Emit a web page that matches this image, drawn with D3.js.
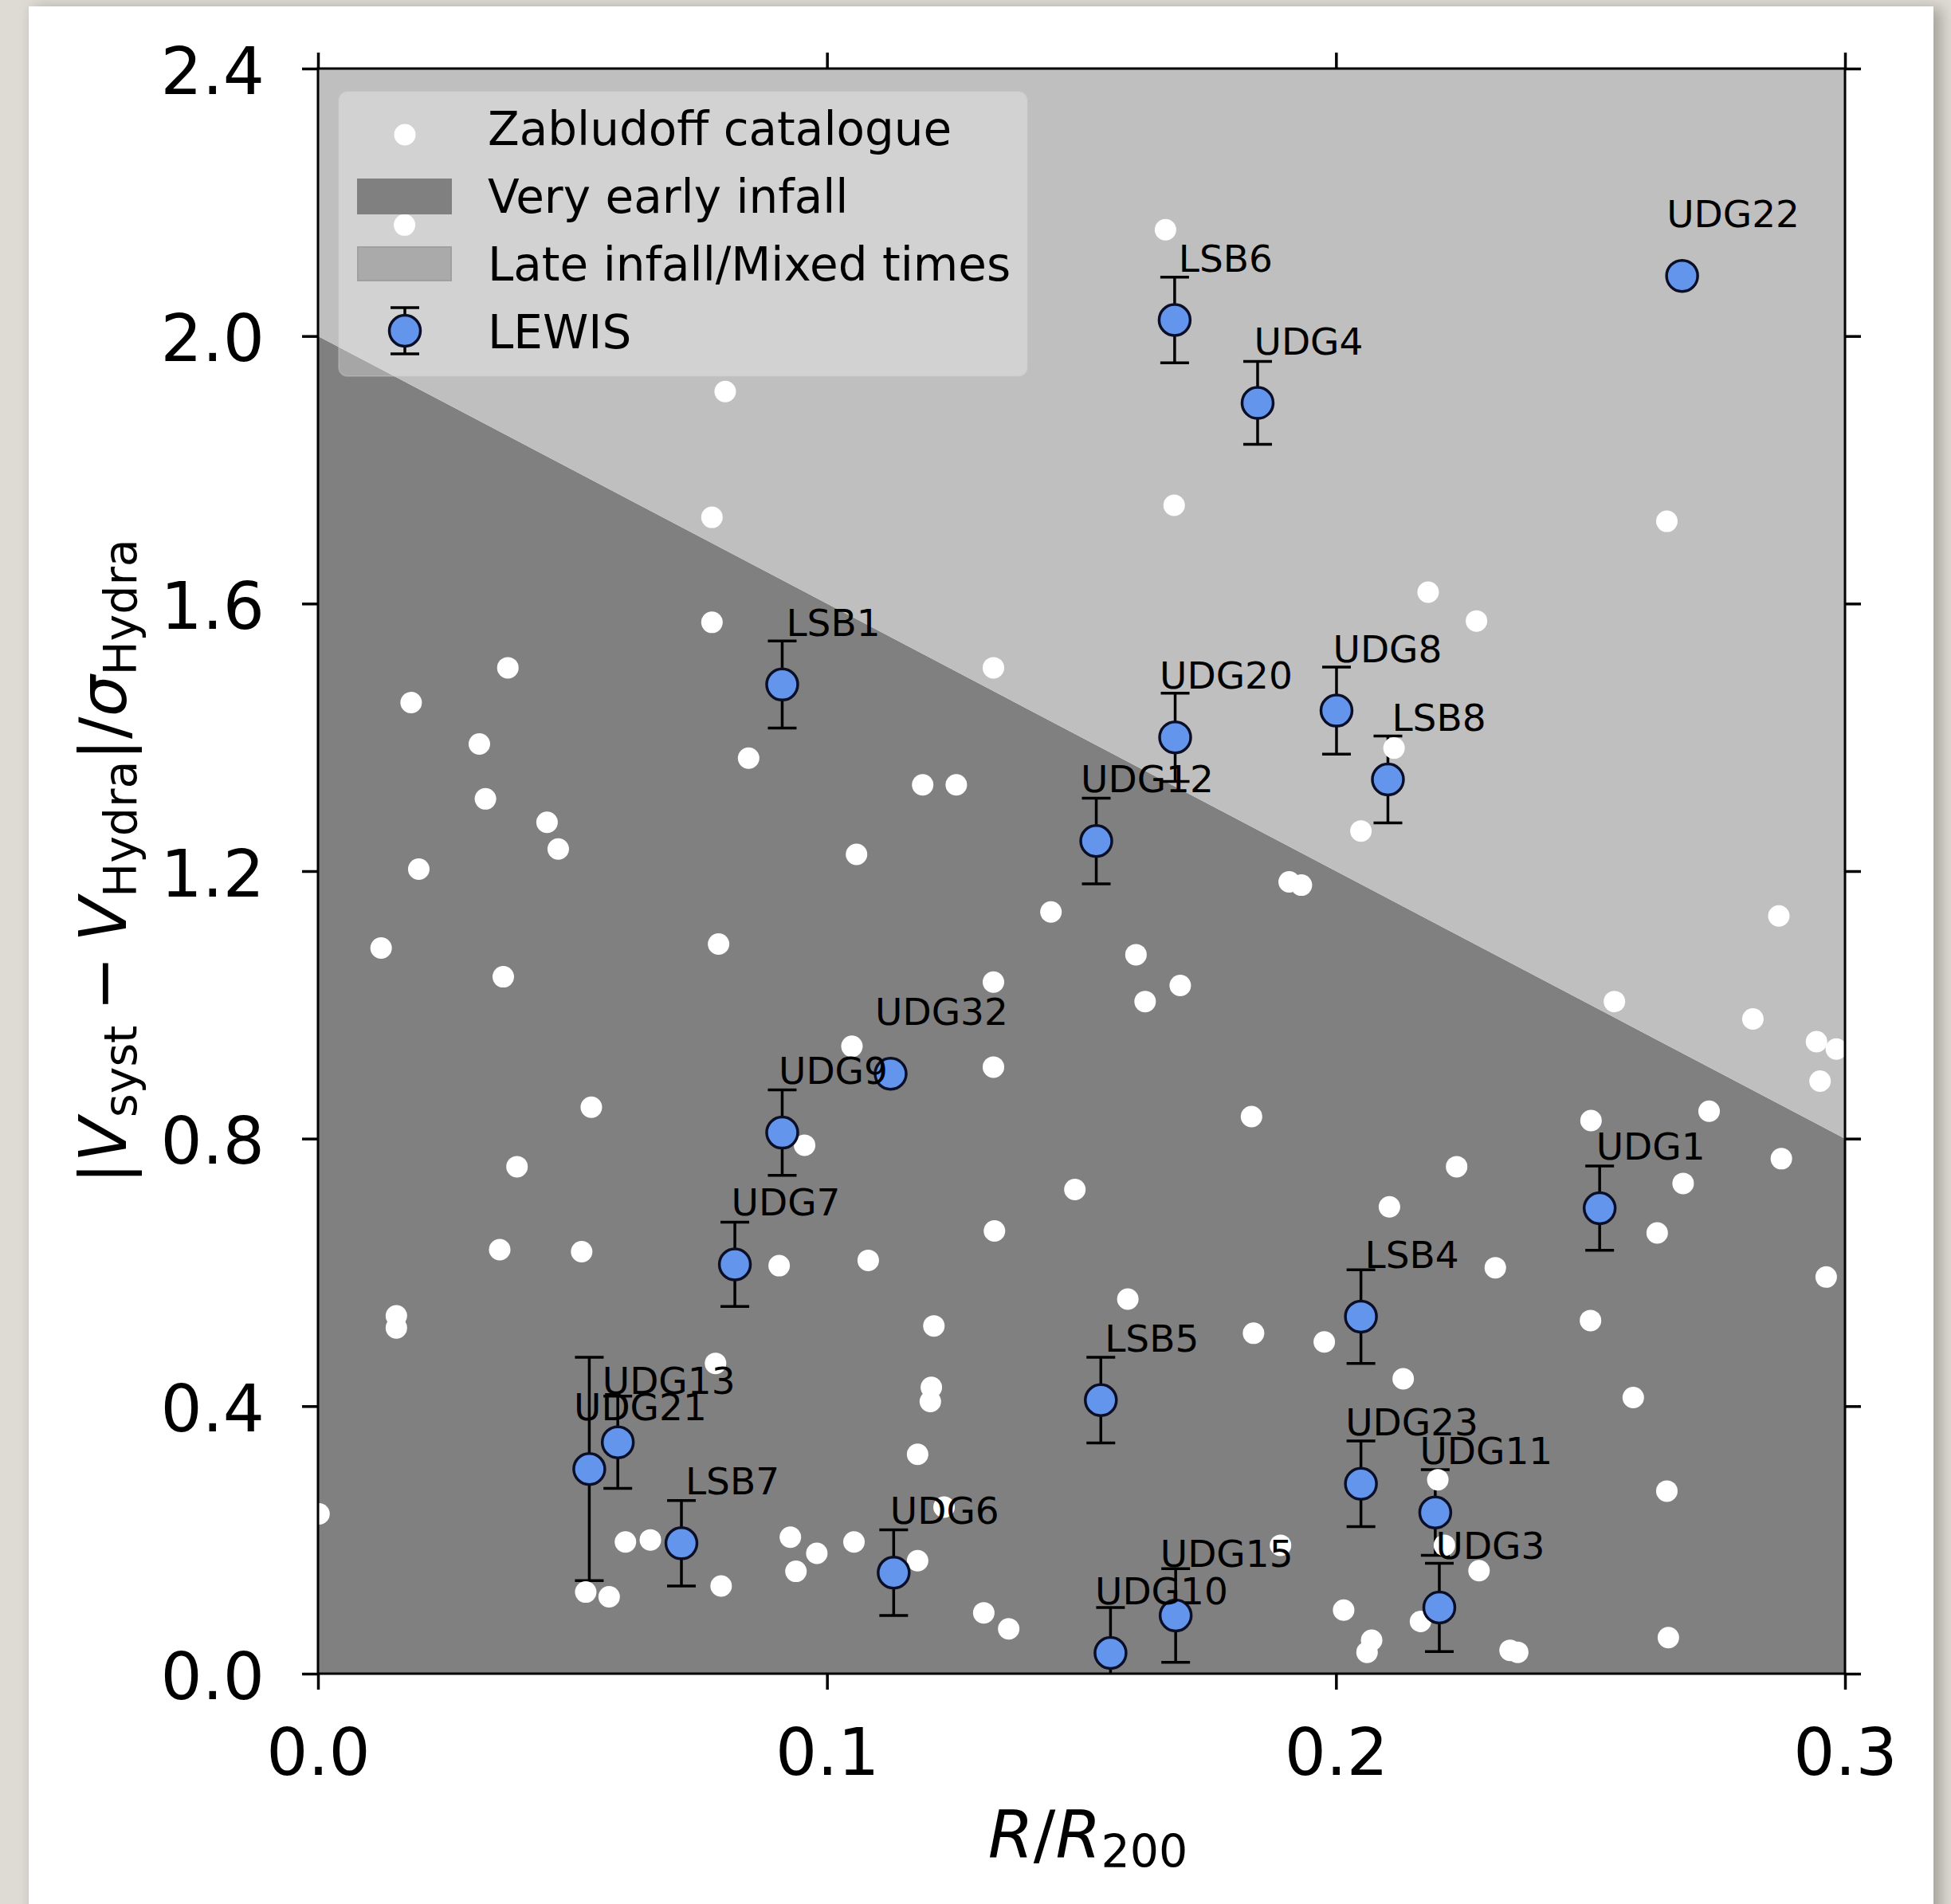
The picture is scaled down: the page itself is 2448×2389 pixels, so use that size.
<!DOCTYPE html>
<html>
<head>
<meta charset="utf-8">
<script src="https://cdn.jsdelivr.net/npm/d3@7"></script>
<style>
  body { margin: 0; background: #dddad3; }
  svg { display: block; font-family: 'DejaVu Sans', sans-serif; }
</style>
</head>
<body>
<div class="graph"><svg></svg></div>
<script>
// Zabludoff catalogue (white dots)
const zabludoffR = [
  0.017, 0.1665, 0.080, 0.0774, 0.1682, 0.265, 0.2181, 0.2276, 0.0774, 0.1327,
  0.0373, 0.0183, 0.0317, 0.0846, 0.0329, 0.1188, 0.1254, 0.2114, 0.2049, 0.045,
  0.0472, 0.0198, 0.1058, 0.1908, 0.1932, 0.287, 0.144, 0.0124, 0.0787, 0.1607,
  0.1694, 0.0364, 0.1327, 0.1625, 0.2547, 0.2819, 0.2944, 0.2983, 0.2951, 0.1049,
  0.1327, 0.0537, 0.2733, 0.1834, 0.2501, 0.2875, 0.0391, 0.2237, 0.0956, 0.2682,
  0.1487, 0.2105, 0.1329, 0.2631, 0.0357, 0.0518, 0.0906, 0.1081, 0.2313, 0.2963,
  0.0154, 0.0154, 0.1591, 0.121, 0.1838, 0.1977, 0.25, 0.0781, 0.2132, 0.1205,
  0.1203, 0.2584, 0.1178, 0.22, 0.265, 0.0002, 0.123, 0.0928, 0.098, 0.1053,
  0.0604, 0.0653, 0.0939, 0.1178, 0.0792, 0.0526, 0.0572, 0.2213, 0.2281, 0.1891,
  0.1308, 0.1357, 0.2015, 0.2166, 0.207, 0.2061, 0.2342, 0.2357, 0.2653
]
const zabludoffV = [
  2.166, 2.159, 1.917, 1.729, 1.747, 1.723, 1.617, 1.574, 1.572, 1.504,
  1.504, 1.452, 1.390, 1.369, 1.308, 1.329, 1.329, 1.384, 1.260, 1.273,
  1.233, 1.203, 1.225, 1.184, 1.179, 1.133, 1.139, 1.085, 1.091, 1.075,
  1.029, 1.042, 1.034, 1.005, 1.005, 0.979, 0.945, 0.934, 0.886, 0.938,
  0.907, 0.847, 0.841, 0.833, 0.827, 0.770, 0.758, 0.758, 0.790, 0.733,
  0.724, 0.698, 0.662, 0.659, 0.634, 0.631, 0.610, 0.618, 0.607, 0.593,
  0.535, 0.517, 0.560, 0.520, 0.509, 0.496, 0.528, 0.464, 0.441, 0.428,
  0.407, 0.413, 0.328, 0.290, 0.273, 0.239, 0.249, 0.204, 0.180, 0.197,
  0.197, 0.200, 0.153, 0.169, 0.131, 0.122, 0.115, 0.192, 0.154, 0.192,
  0.091, 0.067, 0.095, 0.078, 0.050, 0.032, 0.035, 0.032, 0.054
]

// LEWIS galaxies
const lewisNames = [
  'LSB6', 'UDG4', 'UDG22', 'LSB1', 'UDG20', 'UDG8', 'LSB8', 'UDG12', 'UDG32',
  'UDG9', 'UDG7', 'UDG1', 'LSB4', 'LSB5', 'UDG13', 'UDG21', 'LSB7', 'UDG6',
  'UDG10', 'UDG15', 'UDG23', 'UDG11', 'UDG3'
]
const lewisR = [
  0.1683, 0.1846, 0.268, 0.0912, 0.1684, 0.2001, 0.2102, 0.1529, 0.1125,
  0.0912, 0.0819, 0.2518, 0.2049, 0.1538, 0.0589, 0.0533, 0.0714, 0.1131,
  0.1557, 0.1685, 0.2049, 0.2195, 0.2203
]
const lewisV = [
  2.024, 1.900, 2.090, 1.479, 1.400, 1.440, 1.337, 1.245, 0.897,
  0.809, 0.612, 0.696, 0.534, 0.409, 0.346, 0.306, 0.195, 0.151,
  0.031, 0.087, 0.284, 0.241, 0.099
]
const lewisErr = [
  0.064, 0.062, 0, 0.065, 0.066, 0.065, 0.065, 0.064, 0,
  0.064, 0.063, 0.063, 0.070, 0.064, 0.069, 0.167, 0.064, 0.064,
  0.068, 0.070, 0.064, 0.064, 0.066
]

// infall boundary line, ticks and legend
const boundaryR = [0, 0.3]
const boundaryV = [2.0, 0.8]
const xTicks = [0, 0.1, 0.2, 0.3]
const yTicks = [0, 0.4, 0.8, 1.2, 1.6, 2.0, 2.4]
const legendLabels = ['Zabludoff catalogue', 'Very early infall', 'Late infall/Mixed times', 'LEWIS']

const DARK = '#808080'
const LIGHT = '#bfbfbf'
const BLUE = '#6495ed'

const margin = { left: 399, top: 86 }
const width = 1916
const height = 2014

const svg = d3.select('.graph').select('svg')
  .attr('width', 2448)
  .attr('height', 2389)

/**
 * Draws the paper sheet the figure is printed on.
 */
function drawPaper () {
  const defs = svg.append('defs')
  defs.append('filter')
    .attr('id', 'blur')
    .attr('x', -0.1).attr('y', -0.1)
    .attr('width', 1.2).attr('height', 1.2)
    .append('feGaussianBlur')
    .attr('stdDeviation', 9)

  svg.append('rect')
    .attr('x', 0).attr('y', 0)
    .attr('width', 2448).attr('height', 2389)
    .attr('fill', '#dedbd4')
  svg.append('rect')
    .attr('x', 42).attr('y', 10)
    .attr('width', 2394).attr('height', 2420)
    .attr('fill', '#77746e')
    .attr('opacity', 0.55)
    .attr('filter', 'url(#blur)')
  svg.append('rect')
    .attr('x', 36).attr('y', 8)
    .attr('width', 2390).attr('height', 2400)
    .attr('fill', '#ffffff')
}

drawPaper()

const g = svg.append('g')
  .attr('id', 'graph-g')
  .attr('transform', 'translate(' + margin.left + ',' + margin.top + ')')

const xScale = d3.scaleLinear().domain([0, 0.3]).range([0, width])
const yScale = d3.scaleLinear().domain([0, 2.4]).range([height, 0])

g.append('defs').append('clipPath')
  .attr('id', 'plot-clip')
  .append('rect')
  .attr('width', width)
  .attr('height', height)

// shaded infall regions
const boundary = boundaryR.map((r, i) => ({ r: r, v: boundaryV[i] }))

g.append('path')
  .datum(boundary)
  .attr('fill', DARK)
  .attr('d', d3.area()
    .x(d => xScale(d.r))
    .y0(yScale(0))
    .y1(d => yScale(d.v)))

g.append('path')
  .datum(boundary)
  .attr('fill', LIGHT)
  .attr('d', d3.area()
    .x(d => xScale(d.r))
    .y0(d => yScale(d.v))
    .y1(yScale(2.4)))

const data = g.append('g').attr('clip-path', 'url(#plot-clip)')

const lewis = lewisNames.map((name, i) => ({
  name: name, r: lewisR[i], v: lewisV[i], err: lewisErr[i]
}))

// error bars
const bars = data.append('g')
  .selectAll('g')
  .data(lewis.filter(d => d.err > 0))
  .join('g')
  .attr('stroke', '#000')
  .attr('stroke-width', 3.5)

bars.append('line')
  .attr('x1', d => xScale(d.r)).attr('x2', d => xScale(d.r))
  .attr('y1', d => yScale(d.v - d.err)).attr('y2', d => yScale(d.v + d.err))
bars.append('line')
  .attr('x1', d => xScale(d.r) - 18).attr('x2', d => xScale(d.r) + 18)
  .attr('y1', d => yScale(d.v + d.err)).attr('y2', d => yScale(d.v + d.err))
bars.append('line')
  .attr('x1', d => xScale(d.r) - 18).attr('x2', d => xScale(d.r) + 18)
  .attr('y1', d => yScale(d.v - d.err)).attr('y2', d => yScale(d.v - d.err))

// catalogue dots
data.append('g')
  .selectAll('circle')
  .data(zabludoffR.map((r, i) => ({ r: r, v: zabludoffV[i] })))
  .join('circle')
  .attr('cx', d => xScale(d.r))
  .attr('cy', d => yScale(d.v))
  .attr('r', 13.5)
  .attr('fill', '#ffffff')

// LEWIS markers
data.append('g')
  .selectAll('circle')
  .data(lewis)
  .join('circle')
  .attr('cx', d => xScale(d.r))
  .attr('cy', d => yScale(d.v))
  .attr('r', 19.5)
  .attr('fill', BLUE)
  .attr('stroke', '#0b0f26')
  .attr('stroke-width', 3.5)

// galaxy names
g.append('g')
  .selectAll('text')
  .data(lewis)
  .join('text')
  .attr('x', d => xScale(d.r) + 64)
  .attr('y', d => yScale(d.v) - 61)
  .attr('text-anchor', 'middle')
  .attr('font-size', 47)
  .attr('fill', '#000')
  .text(d => d.name)

/**
 * Styles an axis group drawn by d3.
 *
 * @param {*} sel The axis selection
 */
function styleAxis (sel) {
  sel.attr('font-size', null).attr('font-family', null)
  sel.select('.domain').remove()
  sel.selectAll('.tick line').attr('stroke', '#000').attr('stroke-width', 3.5)
  sel.selectAll('.tick text').attr('font-size', 82).attr('fill', '#000')
}

g.append('g')
  .attr('class', 'y axis')
  .call(d3.axisLeft(yScale).tickValues(yTicks).tickFormat(d3.format('.1f'))
    .tickSizeInner(20).tickSizeOuter(0).tickPadding(47))
  .call(styleAxis)
  .selectAll('.tick text').attr('dy', '0.38em')

g.append('g')
  .attr('class', 'y axis right')
  .attr('transform', 'translate(' + width + ',0)')
  .call(d3.axisRight(yScale).tickValues(yTicks).tickFormat('')
    .tickSizeInner(20).tickSizeOuter(0))
  .call(styleAxis)

g.append('g')
  .attr('class', 'x axis')
  .attr('transform', 'translate(0, ' + height + ')')
  .call(d3.axisBottom(xScale).tickValues(xTicks).tickFormat(d3.format('.1f'))
    .tickSizeInner(20).tickSizeOuter(0).tickPadding(49))
  .call(styleAxis)

g.append('g')
  .attr('class', 'x axis top')
  .call(d3.axisTop(xScale).tickValues(xTicks).tickFormat('')
    .tickSizeInner(20).tickSizeOuter(0))
  .call(styleAxis)

// spines
g.append('rect')
  .attr('width', width)
  .attr('height', height)
  .attr('fill', 'none')
  .attr('stroke', '#000')
  .attr('stroke-width', 3)

// axis labels
const xLabel = g.append('text')
  .attr('x', width / 2 + 8)
  .attr('y', 2330 - margin.top)
  .attr('text-anchor', 'middle')
  .attr('font-size', 82)
xLabel.append('tspan').attr('font-style', 'italic').text('R')
xLabel.append('tspan').text('/')
xLabel.append('tspan').attr('font-style', 'italic').text('R')
xLabel.append('tspan').attr('font-size', 57).attr('dy', 13).text('200')

const yLabel = svg.append('text')
  .attr('transform', 'translate(158,' + (margin.top + height / 2 - 12) + ') rotate(-90)')
  .attr('text-anchor', 'middle')
  .attr('font-size', 82)
yLabel.append('tspan').text('|')
yLabel.append('tspan').attr('font-style', 'italic').text('V')
yLabel.append('tspan').attr('font-size', 57).attr('dy', 13).text('syst')
yLabel.append('tspan').attr('dy', -13).attr('dx', 18).text('\u2212')
yLabel.append('tspan').attr('dx', 18).attr('font-style', 'italic').text('V')
yLabel.append('tspan').attr('font-size', 57).attr('dy', 13).text('Hydra')
yLabel.append('tspan').attr('dy', -13).text('|/')
yLabel.append('tspan').attr('font-style', 'italic').text('\u03c3')
yLabel.append('tspan').attr('font-size', 57).attr('dy', 13).text('Hydra')

// legend
const legend = svg.append('g').attr('class', 'legend')
legend.append('rect')
  .attr('x', 425).attr('y', 115)
  .attr('width', 864).attr('height', 357)
  .attr('rx', 11)
  .attr('fill', '#ffffff')
  .attr('fill-opacity', 0.3)
  .attr('stroke', '#cccccc')
  .attr('stroke-opacity', 0.3)
  .attr('stroke-width', 2)

const rowBase = legendLabels.map((d, i) => 182 + i * 85)

legend.selectAll('text')
  .data(legendLabels)
  .join('text')
  .attr('x', 612)
  .attr('y', (d, i) => rowBase[i])
  .attr('font-size', 58)
  .attr('fill', '#000')
  .text(d => d)

legend.append('circle')
  .attr('cx', 508).attr('cy', rowBase[0] - 13)
  .attr('r', 13.5)
  .attr('fill', '#ffffff')
legend.append('rect')
  .attr('x', 448).attr('y', rowBase[1] - 43)
  .attr('width', 119).attr('height', 45)
  .attr('fill', DARK)
legend.append('rect')
  .attr('x', 449).attr('y', rowBase[2] - 42)
  .attr('width', 117).attr('height', 42)
  .attr('fill', '#aaaaaa')
  .attr('stroke', '#a0a0a0')
  .attr('stroke-width', 2)

const lewisKey = legend.append('g').attr('stroke', '#000').attr('stroke-width', 3.5)
const keyY = rowBase[3] - 22
lewisKey.append('line').attr('x1', 508).attr('x2', 508).attr('y1', keyY - 29).attr('y2', keyY + 29)
lewisKey.append('line').attr('x1', 490).attr('x2', 526).attr('y1', keyY - 29).attr('y2', keyY - 29)
lewisKey.append('line').attr('x1', 490).attr('x2', 526).attr('y1', keyY + 29).attr('y2', keyY + 29)
legend.append('circle')
  .attr('cx', 508).attr('cy', keyY)
  .attr('r', 19.5)
  .attr('fill', BLUE)
  .attr('stroke', '#0b0f26')
  .attr('stroke-width', 3.5)
</script>
</body>
</html>
